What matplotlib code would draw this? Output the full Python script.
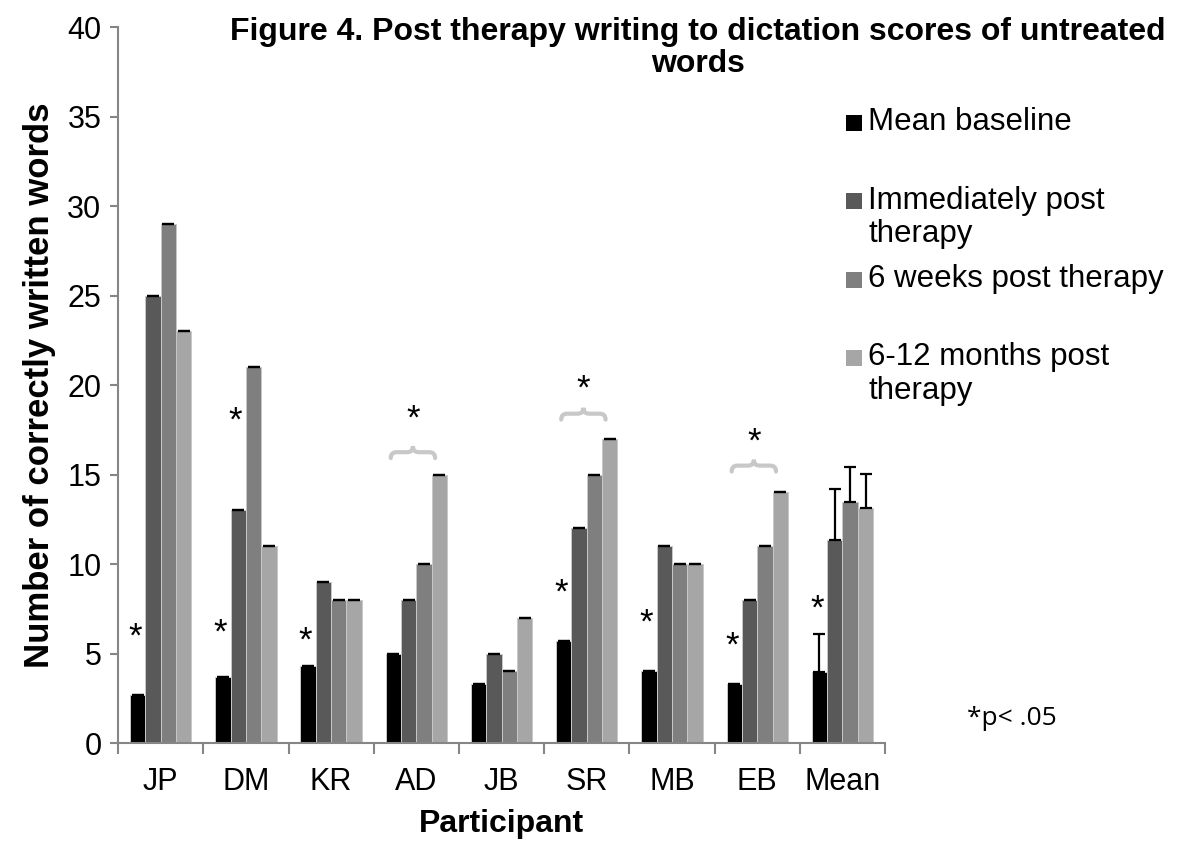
import numpy as np
import matplotlib
matplotlib.use("Agg")
import matplotlib.pyplot as plt
from matplotlib.path import Path
from matplotlib.patches import PathPatch, Rectangle

plt.rcParams['font.family'] = ['Liberation Sans', 'DejaVu Sans']

participants = ["JP", "DM", "KR", "AD", "JB", "SR", "MB", "EB", "Mean"]
series_names = ["Mean baseline", "Immediately post\ntherapy",
                "6 weeks post therapy", "6-12 months post\ntherapy"]
baseline = [2.7, 3.7, 4.3, 5.0, 3.3, 5.7, 4.0, 3.3, 3.96]
immediate = [25, 13, 9, 8, 5, 12, 11, 8, 11.35]
six_weeks = [29, 21, 8, 10, 4, 15, 10, 11, 13.46]
six_twelve = [23, 11, 8, 15, 7, 17, 10, 14, 13.13]
# upper error on the group mean only (last category)
mean_err = [2.13, 2.85, 1.94, 1.90]

# single asterisks: (category index, bar index, y)
stars = [(0, 0, 5.9), (1, 0, 6.15), (1, 1, 18.0), (2, 0, 5.7), (5, 0, 8.4),
         (6, 0, 6.7), (7, 0, 5.4), (8, 0, 7.5)]
# braces with asterisk over later time points: (category index, brace y, star y)
braces = [(3, 16.25, 18.1), (5, 18.4, 19.8), (7, 15.5, 16.8)]

colors = ["#000000", "#595959", "#7f7f7f", "#a6a6a6"]
values = [baseline, immediate, six_weeks, six_twelve]


def brace_path(xc, y, w, h):
    xl, xr = xc - w / 2, xc + w / 2
    q = 0.13 * w
    verts = [(xl, y - h), (xl, y), (xl + q, y),
             (xc - q, y),
             (xc, y), (xc, y + h),
             (xc, y), (xc + q, y),
             (xr - q, y),
             (xr, y), (xr, y - h)]
    codes = [Path.MOVETO, Path.CURVE3, Path.CURVE3,
             Path.LINETO,
             Path.CURVE3, Path.CURVE3,
             Path.CURVE3, Path.CURVE3,
             Path.LINETO,
             Path.CURVE3, Path.CURVE3]
    return Path(verts, codes)


fig = plt.figure(figsize=(11.77, 8.46), dpi=100)
ax = fig.add_axes([0.1003, 0.1217, 0.6517, 0.8463])

x = np.arange(len(participants))
w = 0.18
for i, (vals, c) in enumerate(zip(values, colors)):
    pos = x + (i - 1.5) * w
    ax.bar(pos, vals, width=w, color=c, edgecolor="#c8c8c8", linewidth=0.7,
           zorder=2)
    n = len(participants) - 1
    ax.errorbar(pos[:n], vals[:n], yerr=np.zeros(n), fmt="none",
                ecolor="black", capsize=4.6, capthick=1.6, zorder=3)
    ax.errorbar(pos[n:], vals[n:], yerr=[[0], [mean_err[i]]], fmt="none",
                ecolor="black", capsize=4.6, capthick=1.6, elinewidth=1.6,
                zorder=3)

for ci, bi, sy in stars:
    ax.text(x[ci] + (bi - 1.5) * w - 0.03, sy, "*", ha="center",
            va="center", fontsize=25)
for ci, by, sy in braces:
    ax.add_patch(PathPatch(brace_path(x[ci] - 0.04, by, 0.52, 0.33),
                           fill=False, edgecolor="#c8c8c8", linewidth=3,
                           capstyle="round"))
    ax.text(x[ci] - 0.04, sy, "*", ha="center", va="center", fontsize=25)

ax.set_xlim(-0.5, len(participants) - 0.5)
ax.set_ylim(0, 40)
ax.set_yticks(np.arange(0, 41, 5))
ax.set_xticks(np.arange(-0.5, len(participants), 1))
ax.set_xticklabels([])
ax.set_xticks(x, minor=True)
ax.set_xticklabels(participants, minor=True)
ax.tick_params(axis="x", which="major", length=8, width=1.5, color="#868686")
ax.tick_params(axis="x", which="minor", length=0, pad=17, labelsize=22)
ax.tick_params(axis="y", length=6, width=1.5, color="#868686", labelsize=22,
               pad=6)
for s in ["top", "right"]:
    ax.spines[s].set_visible(False)
for s in ["left", "bottom"]:
    ax.spines[s].set_color("#868686")
    ax.spines[s].set_linewidth(1.5)

ax.set_xlabel("Participant", fontsize=23, fontweight="bold", labelpad=9)
ax.set_ylabel("Number of correctly written words", fontsize=25,
              fontweight="bold", labelpad=8)

fig.text(0.593, 1 - 17 / 846,
         "Figure 4. Post therapy writing to dictation scores of untreated\nwords",
         ha="center", va="top", fontsize=23, fontweight="bold",
         linespacing=1.08)

# legend drawn by hand so the multi-line labels hang below their swatch
for i, (name, c) in enumerate(zip(series_names, colors)):
    yc = 1 - (123 + 78.5 * i) / 846
    fig.add_artist(Rectangle((846 / 1177, yc - 8 / 846), 16 / 1177, 16 / 846,
                             transform=fig.transFigure, facecolor=c,
                             edgecolor="none"))
    fig.text(868 / 1177, yc + 16 / 846, name, ha="left", va="top",
             fontsize=22.5, linespacing=1.15)

fig.text(967 / 1177, 1 - 718 / 846, "*p< .05", ha="left", va="center",
         fontsize=19, family=["Open Sans", "DejaVu Sans"])

fig.savefig("out.png", dpi=100)
